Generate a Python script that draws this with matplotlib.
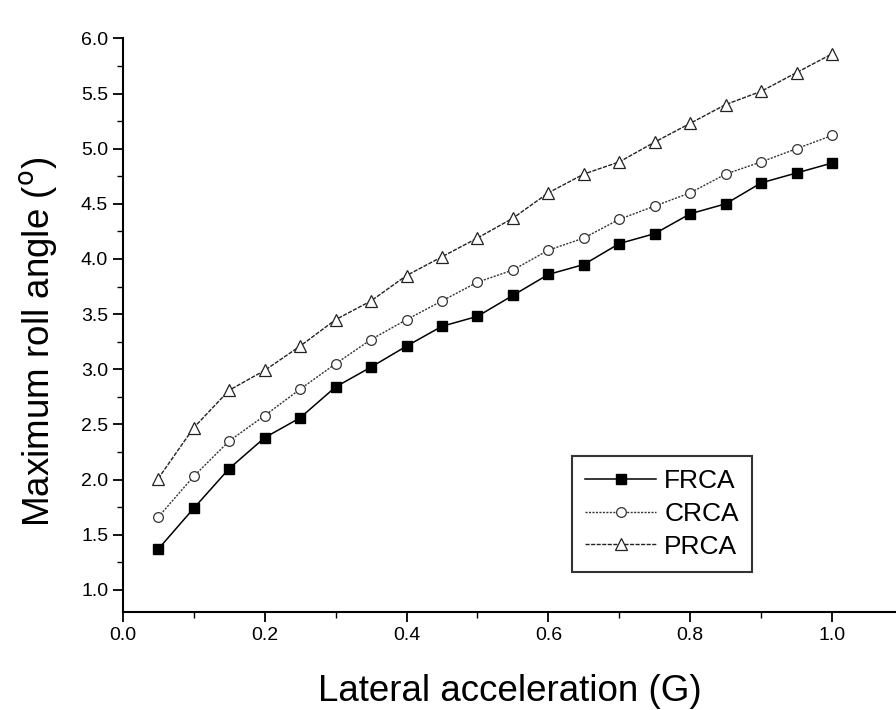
import matplotlib.pyplot as plt
from matplotlib.ticker import MultipleLocator

plt.rcParams['font.family'] = ['Liberation Sans', 'DejaVu Sans']

# lateral acceleration (G)
accel = [0.05, 0.10, 0.15, 0.20, 0.25, 0.30, 0.35, 0.40, 0.45, 0.50,
         0.55, 0.60, 0.65, 0.70, 0.75, 0.80, 0.85, 0.90, 0.95, 1.00]

# maximum roll angle (deg)
frca = [1.37, 1.74, 2.10, 2.38, 2.56, 2.84, 3.02, 3.21, 3.39, 3.48,
        3.67, 3.86, 3.95, 4.14, 4.23, 4.41, 4.50, 4.69, 4.78, 4.87]
crca = [1.66, 2.03, 2.35, 2.58, 2.82, 3.05, 3.27, 3.45, 3.62, 3.79,
        3.90, 4.08, 4.19, 4.36, 4.48, 4.60, 4.77, 4.88, 5.00, 5.12]
prca = [2.01, 2.47, 2.81, 2.99, 3.21, 3.45, 3.62, 3.85, 4.02, 4.19,
        4.37, 4.60, 4.77, 4.88, 5.06, 5.23, 5.40, 5.52, 5.69, 5.86]

fig = plt.figure(figsize=(8.96, 7.10), dpi=100)
ax = fig.add_axes([0.137, 0.138, 0.863, 0.808])

ax.plot(accel, frca, color='black', lw=1.1, marker='s', ms=7,
        mfc='black', mec='black', label='FRCA')
ax.plot(accel, crca, color='#333333', lw=1.0, ls=(0, (1.5, 1)), marker='o', ms=7,
        mfc='white', mec='#333333', mew=0.9, label='CRCA')
ax.plot(accel, prca, color='#222222', lw=1.0, ls=(0, (3, 1)), marker='^', ms=8,
        mfc='white', mec='#222222', mew=0.9, label='PRCA')

ax.set_xlim(0, 1.09)
ax.set_ylim(0.8, 6.0)
ax.xaxis.set_major_locator(MultipleLocator(0.2))
ax.xaxis.set_minor_locator(MultipleLocator(0.1))
ax.yaxis.set_minor_locator(MultipleLocator(0.25))
ax.set_yticks([1.0, 1.5, 2.0, 2.5, 3.0, 3.5, 4.0, 4.5, 5.0, 5.5, 6.0])
ax.yaxis.set_major_formatter(plt.FormatStrFormatter('%.1f'))
ax.xaxis.set_major_formatter(plt.FormatStrFormatter('%.1f'))

for s in ['top', 'right']:
    ax.spines[s].set_visible(False)
for s in ['left', 'bottom']:
    ax.spines[s].set_linewidth(1.5)

ax.tick_params(which='major', direction='out', length=7, width=1.3, labelsize=14)
ax.tick_params(which='minor', direction='out', length=4, width=1.0)

ax.set_xlabel('Lateral acceleration (G)', fontsize=26.5, labelpad=22)
ax.set_ylabel(r'Maximum roll angle ($^{\mathrm{o}}$)', fontsize=26.5)
ax.yaxis.set_label_coords(-0.081, 0.47)

leg = ax.legend(loc='lower left', bbox_to_anchor=(0.581, 0.070), borderaxespad=0,
                fontsize=19, frameon=True, fancybox=False, edgecolor='black',
                handlelength=2.7, handletextpad=0.3, borderpad=0.5,
                labelspacing=0.33)
leg.get_frame().set_linewidth(1.5)

fig.savefig('out.png', dpi=100)
